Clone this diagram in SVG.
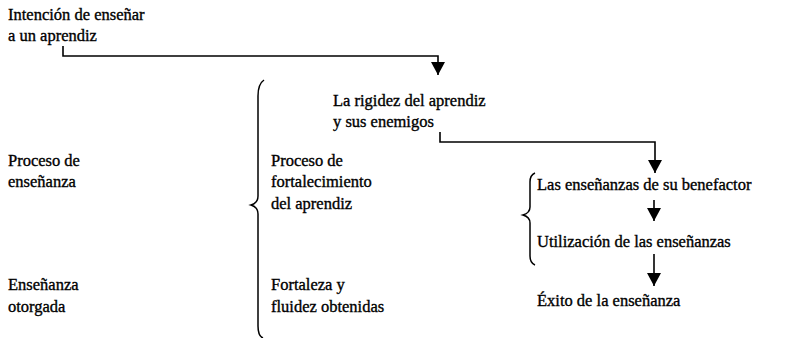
<svg xmlns="http://www.w3.org/2000/svg" width="805" height="338" viewBox="0 0 805 338">
<defs>
<marker id="ah" markerWidth="13" markerHeight="14" refX="13" refY="7" orient="auto" markerUnits="userSpaceOnUse" viewBox="0 0 13 14">
<path d="M0,0 L13,7 L0,14 Z" fill="#000"/>
</marker>
<style>
text{font-family:"Liberation Serif","Times New Roman",serif;font-size:16.5px;fill:#000;stroke:#000;stroke-width:0.35}
.ln{fill:none;stroke:#000;stroke-width:1.6}
.br{fill:none;stroke:#000;stroke-width:1.5}
</style>
</defs>
<rect width="805" height="338" fill="#fff"/>
<g id="n-intencion"><text x="8" y="20">Intención de enseñar</text><text x="8" y="41">a un aprendiz</text></g>
<g id="n-rigidez"><text x="333" y="106">La rigidez del aprendiz</text><text x="333" y="127">y sus enemigos</text></g>
<g id="n-ensenanzas"><text x="537" y="190">Las enseñanzas de su benefactor</text></g>
<g id="n-utilizacion"><text x="537" y="247">Utilización de las enseñanzas</text></g>
<g id="n-exito"><text x="537" y="306">Éxito de la enseñanza</text></g>
<g id="n-proceso"><text x="8" y="166">Proceso de</text><text x="8" y="187">enseñanza</text></g>
<g id="n-otorgada"><text x="8" y="290">Enseñanza</text><text x="8" y="312">otorgada</text></g>
<g id="n-fortalecimiento"><text x="271" y="166">Proceso de</text><text x="271" y="187">fortalecimiento</text><text x="271" y="209">del aprendiz</text></g>
<g id="n-fortaleza"><text x="271" y="290">Fortaleza y</text><text x="271" y="312">fluidez obtenidas</text></g>
<g id="braces">
<path class="br" d="M264,80 Q258,84 258,96 L258,196 Q258,203 251,205 Q258,207 258,214 L258,326 Q258,336 263,338"/>
<path class="br" d="M535,173 Q530,175 530,182 L530,207 Q530,213 523,215 Q530,217 530,223 L530,256 Q530,263 535,265"/>
</g>
<g id="connectors">
<path class="ln" d="M63,46 L63,56 L438,56 L438,75" marker-end="url(#ah)"/>
<path class="ln" d="M440,132 L440,142 L655,142 L655,173" marker-end="url(#ah)"/>
<path class="ln" d="M654,200 L654,221" marker-end="url(#ah)"/>
<path class="ln" d="M654,254 L654,286" marker-end="url(#ah)"/>
</g>
</svg>
